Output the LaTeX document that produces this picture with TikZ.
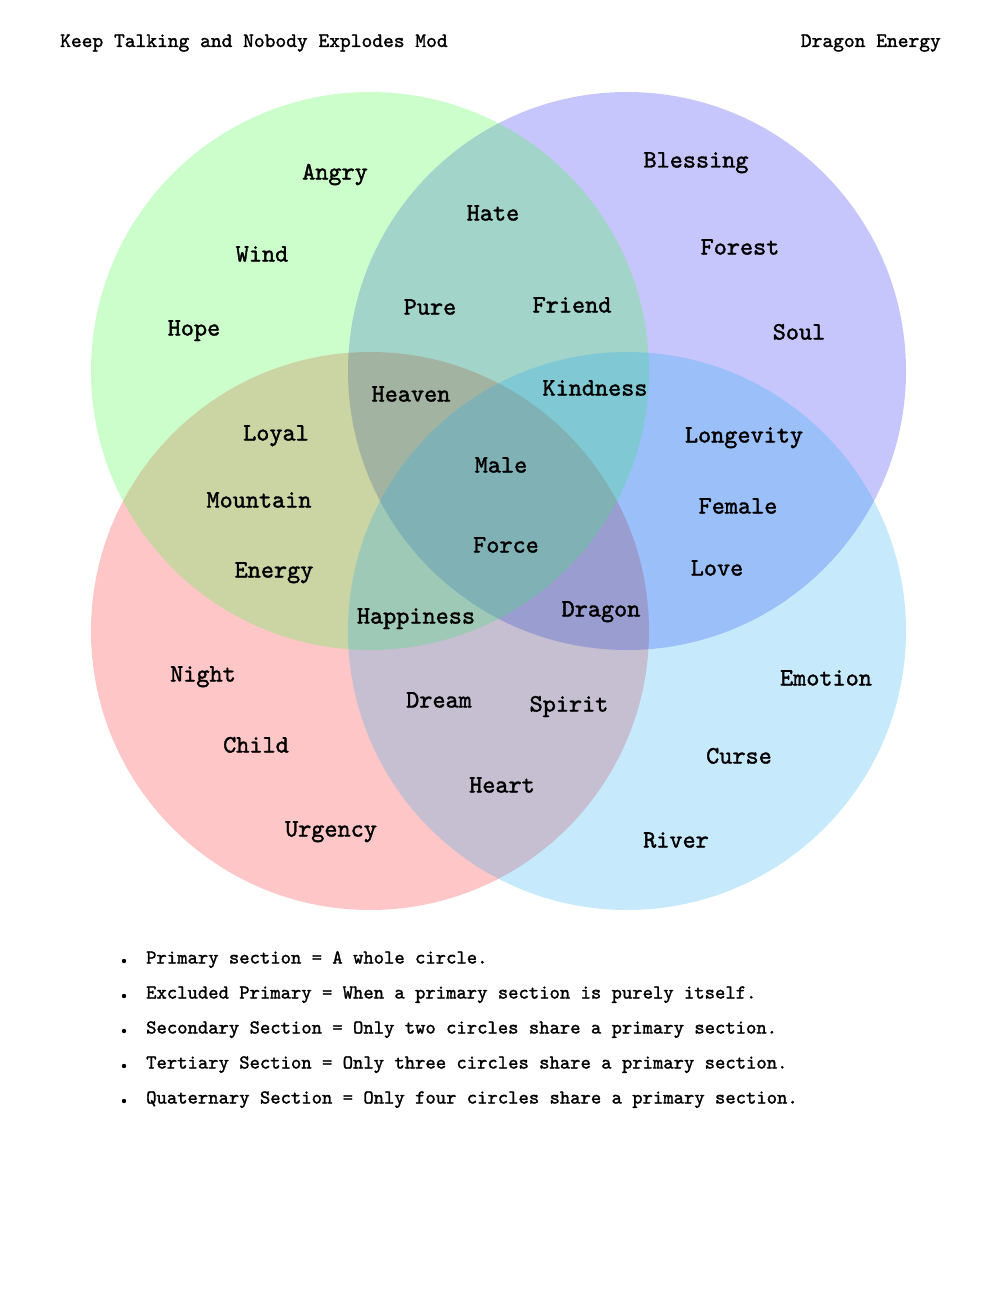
\documentclass[tikz,border=0pt]{standalone}
\usepackage{fontspec}
\usepackage{tikz}
\newfontfamily\typefont{lmmono10-regular}[Extension=.otf,FakeBold=1.5]
\definecolor{vgreen}{RGB}{73,251,73}
\definecolor{vpurple}{RGB}{198,198,252}
\definecolor{vred}{RGB}{254,198,198}
\definecolor{vblue}{RGB}{27,171,243}

\begin{document}
\begin{tikzpicture}[x=1pt,y=-1pt,
  word/.style={font=\typefont\fontsize{25}{25}\selectfont,inner sep=0pt,text height=15pt,text depth=0pt},
  head/.style={font=\typefont\fontsize{20.5}{20.5}\selectfont,inner sep=0pt,text height=14pt,text depth=0pt},
  note/.style={font=\typefont\fontsize{19.7}{20}\selectfont,inner sep=0pt,text height=13pt,text depth=0pt,anchor=west}]
\useasboundingbox (0,0) rectangle (1000,1300);
% the four sets: red and purple below, green and blue laid over them
\begin{scope}[blend group=multiply]
\foreach \cx/\cy/\c in {627/371/vpurple, 370/631/vred} {
  \fill[\c] (\cx,\cy) circle (279);
}
\end{scope}
\fill[vgreen,fill opacity=0.28] (370,371) circle (279);
\fill[vblue,fill opacity=0.25] (627,631) circle (279);
% words in the sections
\foreach \x/\y/\w in {335/172/Angry, 493/213/Hate, 696/160/Blessing, 262/254/Wind, 740/247/Forest,
  430/307/Pure, 572/305/Friend, 194/328/Hope, 799/332/Soul, 411/394/Heaven, 595/388/Kindness,
  276/433/Loyal, 744/435/Longevity, 501/465/Male, 259/500/Mountain, 738/506/Female,
  506/545/Force, 274/570/Energy, 717/568/Love, 416/616/Happiness, 601/609/Dragon,
  203/674/Night, 826/678/Emotion, 439/700/Dream, 569/704/Spirit, 256/745/Child,
  739/756/Curse, 502/785/Heart, 331/829/Urgency, 676/840/River} {
  \node[word] (\w) at (\x,\y) {\w};
}
\node[head,anchor=west] (mod) at (60,40) {Keep Talking and Nobody Explodes Mod};
\node[head,anchor=east] (title) at (941,40) {Dragon Energy};
% definitions
\foreach \i/\y/\t in {1/957/{Primary section = A whole circle.},
  2/992/{Excluded Primary = When a primary section is purely itself.},
  3/1027/{Secondary Section = Only two circles share a primary section.},
  4/1062/{Tertiary Section = Only three circles share a primary section.},
  5/1097/{Quaternary Section = Only four circles share a primary section.}} {
  \node[note] (def\i) at (146,\y) {\t};
  \fill (124,\y+4) circle (2.2);
}
\end{tikzpicture}
\end{document}
